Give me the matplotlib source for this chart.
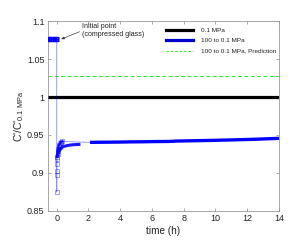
import matplotlib
matplotlib.use("Agg")
import matplotlib.pyplot as plt
from matplotlib.lines import Line2D

plt.rcParams['font.family'] = ['Liberation Sans', 'DejaVu Sans']
plt.rcParams['mathtext.fontset'] = 'custom'
plt.rcParams['mathtext.rm'] = 'Liberation Sans'

# ---- data ----
ref_level = 1.0
pred_level = 1.0275

init_t = [-0.5, -0.4, -0.3, -0.2, -0.1, 0.0, -0.5, -0.4, -0.3, -0.2, -0.1, 0.0]
init_y = [1.0776, 1.0776, 1.0776, 1.0776, 1.0776, 1.0776,
          1.0752, 1.0752, 1.0752, 1.0752, 1.0752, 1.0752]

drop_t = [0.0, 0.0, 0.0, 0.0, 0.01, 0.02, 0.03, 0.05, 0.07, 0.09, 0.12,
          0.15, 0.2, 0.25, 0.3, 0.35]
drop_y = [1.076, 0.875, 0.897, 0.903, 0.912, 0.918, 0.921, 0.925, 0.929,
          0.932, 0.935, 0.937, 0.939, 0.940, 0.941, 0.9415]

lower_t = [0.02, 0.05, 0.1, 0.15, 0.2, 0.3, 0.4, 0.5, 0.6, 0.7, 0.8, 0.9,
           1.0, 1.1, 1.2, 1.3, 1.4]
lower_y = [0.922, 0.925, 0.928, 0.930, 0.932, 0.9335, 0.9345, 0.9352,
           0.9358, 0.9362, 0.9366, 0.9369, 0.9371, 0.9373, 0.9374, 0.9375,
           0.9376]

main_t = [2.1, 2.5, 3, 3.5, 4, 4.5, 5, 5.5, 6, 6.5, 7, 7.3, 7.5, 8, 8.5,
          9, 9.5, 10, 10.5, 11, 11.5, 12, 12.5, 13, 13.5, 14]
main_y = [0.9403, 0.9404, 0.9405, 0.9406, 0.9407, 0.9409, 0.9410, 0.9411,
          0.9413, 0.9414, 0.9415, 0.9417, 0.9420, 0.9422, 0.9424, 0.9426,
          0.9428, 0.9430, 0.9433, 0.9435, 0.9438, 0.9441, 0.9444, 0.9448,
          0.9452, 0.9456]

x_ticks = [0, 2, 4, 6, 8, 10, 12, 14]
y_ticks = [0.85, 0.9, 0.95, 1.0, 1.05, 1.1]
y_ticklabels = ['0.85', '0.9', '0.95', '1', '1.05', '1.1']
legend_labels = ['0.1 MPa', '100 to 0.1 MPa', '100 to 0.1 MPa, Prediction']

# ---- figure ----
fig = plt.figure(figsize=(2.99, 2.45), dpi=100)
ax = fig.add_axes([0.1605, 0.139, 0.7725, 0.775])
xmin, xmax = -0.55, 14

ax.plot([xmin, xmax], [ref_level, ref_level], color='black', lw=2.3,
        solid_capstyle='butt', zorder=3)
ax.plot([xmin, xmax], [pred_level, pred_level], color='#22ee22', lw=0.7,
        dashes=(4, 2.5), zorder=2)

blue = '#0000ff'
# initial (compressed) block
ax.plot(init_t, init_y, ls='none', marker='s', ms=1.6, mfc='none',
        mec=blue, mew=1.0, zorder=4)
# thin connecting line through the drop, the fast branch and the long run
ax.plot(drop_t + main_t, drop_y + main_y, color=blue, lw=0.6, alpha=0.45,
        zorder=4)
ax.plot(drop_t, drop_y, ls='none', marker='s', ms=2.2, mfc='none',
        mec=blue, mew=0.6, alpha=0.45, zorder=4)
ax.plot(drop_t[8:], drop_y[8:], color=blue, lw=1.6, alpha=0.9, zorder=4)
# slower branch
ax.plot(lower_t, lower_y, color=blue, lw=2.2, alpha=0.9, zorder=4)
ax.plot(lower_t[:6], lower_y[:6], ls='none', marker='s', ms=2.0, mfc='none',
        mec=blue, mew=0.6, alpha=0.6, zorder=4)
# long run
ax.plot(main_t, main_y, color=blue, lw=2.4, zorder=4,
        solid_capstyle='butt')

ax.set_xlim(xmin, xmax)
ax.set_ylim(0.85, 1.1)
ax.set_xticks(x_ticks)
ax.set_yticks(y_ticks)
ax.set_yticklabels(y_ticklabels)
ax.tick_params(direction='in', length=2.5, width=0.5, color='#888888',
               labelsize=6.5, top=True, right=True, pad=2.5,
               labelcolor='#222222')
for s in ax.spines.values():
    s.set_color('#999999')
    s.set_linewidth(0.6)

ax.set_xlabel('time (h)', fontsize=7.2, labelpad=1.5, color='#222222')
ax.set_ylabel("C'/C'$_{\\mathregular{0.1\\ MPa}}$", fontsize=7.5, labelpad=1,
              color='#222222')

ax.annotate('Initial point\n(compressed glass)', xy=(0.28, 1.0762),
            xytext=(1.62, 1.0875), fontsize=5.1, ha='left', va='center',
            linespacing=1.15, color='#222222',
            arrowprops=dict(arrowstyle='-|>,head_length=0.35,head_width=0.15',
                            color='#333333', lw=0.45, shrinkA=0, shrinkB=0,
                            relpos=(0, 0.5)))

handles = [Line2D([], [], color='black', lw=2.3),
           Line2D([], [], color='#0000cc', lw=2.3),
           Line2D([], [], color='#22ee22', lw=0.7, dashes=(2.5, 2))]
leg = ax.legend(handles, legend_labels, loc='upper right', frameon=False,
                fontsize=4.6, handlelength=4.2, handletextpad=1.2,
                labelspacing=0.75, bbox_to_anchor=(1.005, 0.985),
                borderaxespad=0.2)
for t in leg.get_texts():
    t.set_color('#222222')

fig.savefig('out.png', dpi=100)
